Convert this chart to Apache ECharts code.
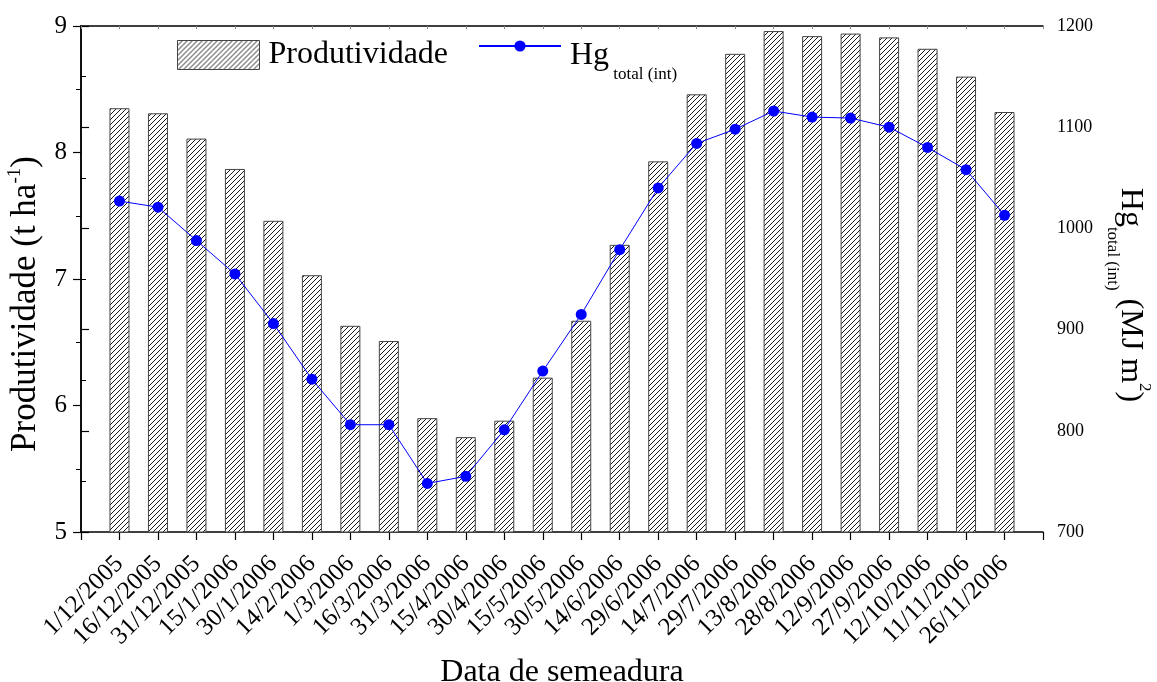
<!DOCTYPE html>
<html>
<head>
<meta charset="utf-8">
<script src="https://cdn.jsdelivr.net/npm/echarts@6/dist/echarts.min.js"></script>
<style>
  html, body { margin: 0; padding: 0; background: #fff; }
  #chart { width: 1157px; height: 682px; }
</style>
</head>
<body>
<div id="chart"></div>
<script>
var dates = ['1/12/2005', '16/12/2005', '31/12/2005', '15/1/2006', '30/1/2006', '14/2/2006',
  '1/3/2006', '16/3/2006', '31/3/2006', '15/4/2006', '30/4/2006', '15/5/2006',
  '30/5/2006', '14/6/2006', '29/6/2006', '14/7/2006', '29/7/2006', '13/8/2006',
  '28/8/2006', '12/9/2006', '27/9/2006', '12/10/2006', '11/11/2006', '26/11/2006'];

// Produtividade (t ha-1)
var produtividade = [8.35, 8.31, 8.11, 7.87, 7.46, 7.03, 6.63, 6.51, 5.90, 5.75, 5.88, 6.22,
  6.67, 7.27, 7.93, 8.46, 8.78, 8.96, 8.92, 8.94, 8.91, 8.82, 8.60, 8.32];

// Hg total (int) (MJ m2)
var hgTotal = [1027, 1021, 988, 955, 906, 851, 806, 806, 748, 755, 801, 859,
  915, 979, 1040, 1084, 1098, 1116, 1110, 1109, 1100, 1080, 1058, 1013];

var FONT = 'Liberation Serif';

// hachura diagonal para as barras
function hatch() {
  var s = 5;
  var c = document.createElement('canvas');
  c.width = s; c.height = s;
  var ctx = c.getContext('2d');
  ctx.fillStyle = '#fff';
  ctx.fillRect(0, 0, s, s);
  ctx.strokeStyle = '#000';
  ctx.lineWidth = 0.9;
  ctx.beginPath();
  ctx.moveTo(-1, s + 1); ctx.lineTo(s + 1, -1);
  ctx.moveTo(-1, 1); ctx.lineTo(1, -1);
  ctx.moveTo(s - 1, s + 1); ctx.lineTo(s + 1, s - 1);
  ctx.stroke();
  return c;
}

var richText = {
  m: { fontFamily: FONT, fontSize: 32, lineHeight: 32, padding: [10, 0, 0, 0], verticalAlign: 'top', color: '#000' },
  sub: { fontFamily: FONT, fontSize: 17, lineHeight: 17, padding: [36, 0, 0, 0], verticalAlign: 'top', color: '#000' },
  sup: { fontFamily: FONT, fontSize: 17, lineHeight: 17, padding: [4, 0, 0, 0], verticalAlign: 'top', color: '#000' },
  mL: { fontFamily: FONT, fontSize: 35, lineHeight: 35, padding: [10, 0, 0, 0], verticalAlign: 'top', color: '#000' },
  supL: { fontFamily: FONT, fontSize: 19, lineHeight: 19, padding: [7, 0, 0, 0], verticalAlign: 'top', color: '#000' }
};

var chart = echarts.init(document.getElementById('chart'));

var option = {
  backgroundColor: '#fff',
  animation: false,
  grid: { left: 81, right: 114, top: 26, bottom: 150, outerBoundsMode: 'none', containLabel: false },
  legend: [{
    data: ['Produtividade'],
    icon: 'rect',
    left: 172, top: 34,
    itemWidth: 82, itemHeight: 29,
    itemStyle: { borderColor: '#444', borderWidth: 1 },
    textStyle: { fontFamily: FONT, fontSize: 32, color: '#000', padding: [0, 0, 0, 4] }
  }, {
    data: ['Hg'],
    left: 473, top: 25,
    itemWidth: 82, itemHeight: 14,
    formatter: function () { return '{m|Hg}{sub| total (int)}'; },
    textStyle: { rich: richText, padding: [0, 0, 0, 4] }
  }],
  xAxis: [{
    type: 'value',
    min: 0, max: 25, interval: 1,
    name: 'Data de semeadura',
    nameLocation: 'middle',
    nameGap: 121,
    nameTextStyle: { fontFamily: FONT, fontSize: 32, color: '#000' },
    axisLine: { lineStyle: { color: '#000', width: 1.5 } },
    axisTick: { length: 8, lineStyle: { color: '#000', width: 1.2 } },
    splitLine: { show: false },
    axisLabel: {
      rotate: 45, margin: 28,
      fontFamily: FONT, fontSize: 25, color: '#000',
      formatter: function (v) { return dates[v - 1] || ''; }
    }
  }, {
    type: 'value', position: 'top',
    min: 0, max: 25, interval: 1,
    axisLine: { lineStyle: { color: '#000', width: 1.5 } },
    axisTick: { inside: true, length: 3, lineStyle: { color: '#888' } },
    axisLabel: { show: false },
    splitLine: { show: false }
  }],
  yAxis: [{
    type: 'value',
    min: 5, max: 9, interval: 1,
    name: '{mL|Produtividade (t ha}{supL|-1}{mL|)}',
    nameLocation: 'middle',
    nameGap: 22,
    nameTextStyle: { rich: richText, padding: [0, 50, 0, 0] },
    axisLine: { show: true, lineStyle: { color: '#000', width: 1.5 } },
    axisTick: { length: 8, lineStyle: { color: '#000', width: 1.2 } },
    minorTick: { show: true, splitNumber: 2, length: 5, lineStyle: { color: '#000' } },
    splitLine: { show: false },
    axisLabel: { fontFamily: FONT, fontSize: 25, color: '#000', margin: 14 }
  }, {
    type: 'value', position: 'right',
    min: 700, max: 1200, interval: 100,
    name: '{m|Hg}{sub|total (int)}{m| (MJ m}{sup|2}{m|)}',
    nameLocation: 'middle',
    nameRotate: -90,
    nameGap: 61,
    nameTextStyle: { rich: richText, padding: [0, 0, 0, 32] },
    axisLine: { show: true, lineStyle: { color: '#000', width: 1.5 } },
    axisTick: { length: 8, lineStyle: { color: '#000', width: 1.2 } },
    minorTick: { show: true, splitNumber: 2, length: 5, lineStyle: { color: '#000' } },
    splitLine: { show: false },
    axisLabel: {
      fontFamily: FONT, fontSize: 18, color: '#000', margin: 14,
      formatter: function (v) { return String(v); }
    }
  }],
  series: [{
    name: 'Produtividade',
    type: 'bar',
    xAxisIndex: 0, yAxisIndex: 0,
    barWidth: 20,
    data: produtividade.map(function (v, i) { return [i + 1, v]; }),
    itemStyle: {
      color: { image: hatch(), repeat: 'repeat' },
      borderColor: '#444',
      borderWidth: 1
    }
  }, {
    name: 'Hg',
    type: 'line',
    xAxisIndex: 0, yAxisIndex: 1,
    data: hgTotal.map(function (v, i) { return [i + 1, v]; }),
    symbol: 'circle',
    symbolSize: 11,
    z: 5,
    itemStyle: { color: '#0000ff' },
    lineStyle: { color: '#0000ff', width: 1 }
  }]
};

chart.setOption(option);
</script>
</body>
</html>
